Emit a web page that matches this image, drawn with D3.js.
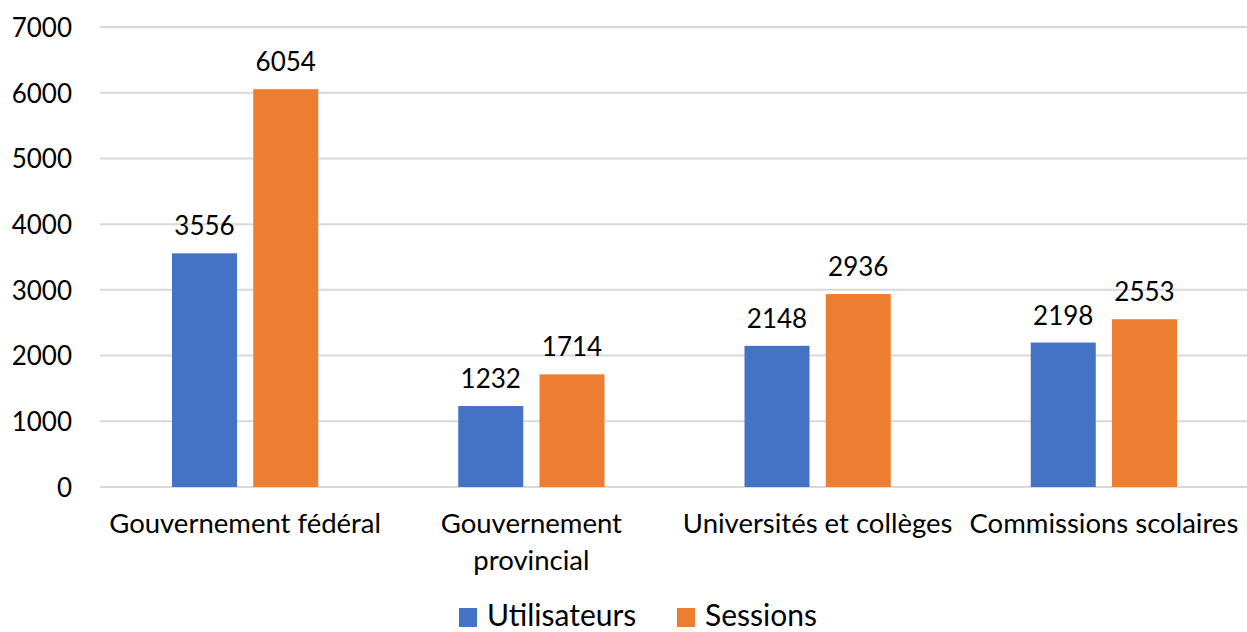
<!DOCTYPE html>
<html>
<head>
<meta charset="utf-8">
<script src="https://cdn.jsdelivr.net/npm/d3@7"></script>
<style>
  body { margin: 0; background: #fff; }
  text { font-family: Lato, "Noto Sans", sans-serif; fill: #000; }
</style>
</head>
<body>
<svg width="1247" height="632"></svg>
<script>
// data
var categories = [["Gouvernement fédéral"], ["Gouvernement", "provincial"], ["Universités et collèges"], ["Commissions scolaires"]];
var seriesNames = ["Utilisateurs", "Sessions"];
var utilisateurs = [3556, 1232, 2148, 2198];
var sessions = [6054, 1714, 2936, 2553];
var yTicks = [0, 1000, 2000, 3000, 4000, 5000, 6000, 7000];
var colors = ["#4472C4", "#ED7D31"];

var svg = d3.select("svg"),
    width = +svg.attr("width"),
    height = +svg.attr("height");

var margin = {left: 102, right: 0, top: 27, bottom: 145};

var x = d3.scaleBand()
    .domain(d3.range(categories.length))
    .range([margin.left, width - margin.right]);

//two bars per group, 70px empty on each side
var x1 = d3.scaleBand()
    .domain(d3.range(seriesNames.length))
    .range([70, x.bandwidth() - 70])
    .paddingInner(0.2);

var y = d3.scaleLinear()
    .domain([0, 7000])
    .range([height - margin.bottom, margin.top]);

//gridlines
svg.append("g")
    .selectAll("line")
    .data(yTicks)
    .enter().append("line")
    .attr("x1", margin.left - 2)
    .attr("x2", width)
    .attr("y1", function(d) { return y(d); })
    .attr("y2", function(d) { return y(d); })
    .style("stroke", "#d9d9d9")
    .style("stroke-width", 2);

//y axis labels
var yAxis = d3.axisLeft(y).tickValues(yTicks).tickSize(0).tickPadding(0).tickFormat(d3.format("d"));
var yg = svg.append("g")
    .attr("transform", "translate(72,0)")
    .call(yAxis);
yg.select(".domain").remove();
yg.selectAll("text")
    .style("font-size", "26px")
    .style("font-family", "Lato, 'Noto Sans', sans-serif")
    .style("fill", "#000")
    .attr("dy", "0.36em");

var table = categories.map(function(c, i) {
  return [utilisateurs[i], sessions[i]];
});

var groups = svg.append("g")
    .selectAll("g")
    .data(table)
    .enter().append("g")
    .attr("transform", function(d, i) { return "translate(" + x(i) + ",0)"; });

groups.selectAll("rect")
    .data(function(d) { return d; })
    .enter().append("rect")
    .attr("x", function(d, j) { return x1(j); })
    .attr("width", x1.bandwidth())
    .attr("y", function(d) { return y(d); })
    .attr("height", function(d) { return y(0) - y(d); })
    .attr("fill", function(d, j) { return colors[j]; });

groups.selectAll("text.value")
    .data(function(d) { return d; })
    .enter().append("text")
    .attr("class", "value")
    .attr("x", function(d, j) { return x1(j) + x1.bandwidth() / 2; })
    .attr("y", function(d) { return y(d) - 18; })
    .attr("text-anchor", "middle")
    .style("font-size", "26px")
    .text(function(d) { return d; });

//category labels
var catLabels = svg.append("g")
    .selectAll("text")
    .data(categories)
    .enter().append("text")
    .attr("x", function(d, i) { return x(i) + x.bandwidth() / 2; })
    .attr("y", 533)
    .attr("text-anchor", "middle")
    .style("font-size", "27.5px");

catLabels.selectAll("tspan")
    .data(function(d) { return d; })
    .enter().append("tspan")
    .attr("x", function() { return this.parentNode.getAttribute("x"); })
    .attr("dy", function(d, k) { return k === 0 ? 0 : 37; })
    .text(function(d) { return d; });

//legend
var legendX = [459, 677];
var legend = svg.append("g")
    .selectAll("g")
    .data(seriesNames)
    .enter().append("g")
    .attr("transform", function(d, i) { return "translate(" + legendX[i] + ",608)"; });

legend.append("rect")
    .attr("width", 18)
    .attr("height", 19)
    .attr("fill", function(d, i) { return colors[i]; });

legend.append("text")
    .attr("x", 28)
    .attr("y", 18)
    .style("font-size", "30px")
    .text(function(d) { return d; });
</script>
</body>
</html>
